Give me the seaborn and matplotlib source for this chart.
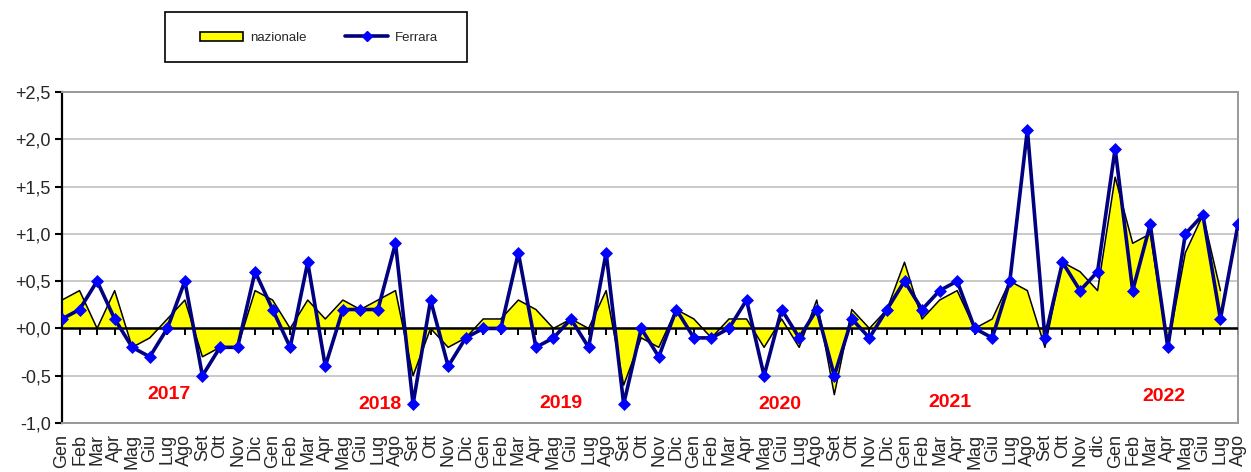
import numpy as np
import matplotlib
matplotlib.use('Agg')
import matplotlib.pyplot as plt
from matplotlib.patches import Rectangle
from matplotlib.lines import Line2D
from matplotlib.patches import Patch
import seaborn as sns

# monthly labels Gen 2017 -> Ago 2022
months = (['Gen', 'Feb', 'Mar', 'Apr', 'Mag', 'Giu', 'Lug', 'Ago', 'Set', 'Ott', 'Nov', 'Dic'] * 4
          + ['Gen', 'Feb', 'Mar', 'Apr', 'Mag', 'Giu', 'Lug', 'Ago', 'Set', 'Ott', 'Nov', 'dic']
          + ['Gen', 'Feb', 'Mar', 'Apr', 'Mag', 'Giu', 'Lug', 'Ago'])

nazionale = [0.3, 0.4, 0.0, 0.4, -0.2, -0.1, 0.1, 0.3, -0.3, -0.2, -0.2, 0.4,
             0.3, 0.0, 0.3, 0.1, 0.3, 0.2, 0.3, 0.4, -0.5, 0.0, -0.2, -0.1,
             0.1, 0.1, 0.3, 0.2, 0.0, 0.1, 0.0, 0.4, -0.6, -0.1, -0.2, 0.2,
             0.1, -0.1, 0.1, 0.1, -0.2, 0.1, -0.2, 0.3, -0.7, 0.2, 0.0, 0.2,
             0.7, 0.1, 0.3, 0.4, 0.0, 0.1, 0.5, 0.4, -0.2, 0.7, 0.6, 0.4,
             1.6, 0.9, 1.0, -0.2, 0.8, 1.2, 0.4, np.nan]

ferrara = [0.1, 0.2, 0.5, 0.1, -0.2, -0.3, 0.0, 0.5, -0.5, -0.2, -0.2, 0.6,
           0.2, -0.2, 0.7, -0.4, 0.2, 0.2, 0.2, 0.9, -0.8, 0.3, -0.4, -0.1,
           0.0, 0.0, 0.8, -0.2, -0.1, 0.1, -0.2, 0.8, -0.8, 0.0, -0.3, 0.2,
           -0.1, -0.1, 0.0, 0.3, -0.5, 0.2, -0.1, 0.2, -0.5, 0.1, -0.1, 0.2,
           0.5, 0.2, 0.4, 0.5, 0.0, -0.1, 0.5, 2.1, -0.1, 0.7, 0.4, 0.6,
           1.9, 0.4, 1.1, -0.2, 1.0, 1.2, 0.1, 1.1]

years = ['2017', '2018', '2019', '2020', '2021', '2022']
year_x = [6.1, 18.1, 28.4, 40.9, 50.6, 62.8]
year_y = [-0.70, -0.80, -0.79, -0.80, -0.78, -0.72]

yticks = [-1.0, -0.5, 0.0, 0.5, 1.0, 1.5, 2.0, 2.5]
ytick_labels = ['-1,0', '-0,5', '+0,0', '+0,5', '+1,0', '+1,5', '+2,0', '+2,5']

sns.set_style('white')
plt.rcParams['font.family'] = ['Liberation Sans', 'DejaVu Sans']

x = np.arange(len(months))
naz = np.array(nazionale, dtype=float)

fig = plt.figure(figsize=(12.51, 4.72), dpi=100)
ax = fig.add_axes([62 / 1251, 1 - 423 / 472, (1238 - 62) / 1251, (423 - 92) / 472])

# nazionale as filled area
ax.fill_between(x, 0, naz, color='#FFFF00', linewidth=0, zorder=2)
sns.lineplot(x=x, y=naz, ax=ax, color='black', linewidth=1.1, zorder=3)
ax.axhline(0, color='black', linewidth=1.8, zorder=4)

# Ferrara line with diamonds
sns.lineplot(x=x, y=ferrara, ax=ax, color='#000080', linewidth=2.6,
             marker='D', markersize=6.3, markerfacecolor='#0000FF',
             markeredgecolor='#0000FF', markeredgewidth=0.5, zorder=5)

ax.set_xlim(0, len(months) - 1)
ax.set_ylim(-1.0, 2.5)
ax.set_yticks(yticks)
ax.set_yticklabels(ytick_labels, fontsize=13)
ax.set_xticks(x)
ax.set_xticklabels(months, rotation=90, fontsize=13)
ax.tick_params(axis='x', length=0, pad=8)
ax.tick_params(axis='y', length=5, width=1.5, color='black', direction='out', left=True, pad=3)
ax.grid(axis='y', color='#C0C0C0', linewidth=1.2)
ax.grid(axis='x', visible=False)
ax.set_axisbelow(True)

for side in ['top', 'right', 'bottom']:
    ax.spines[side].set_color('#999999')
    ax.spines[side].set_linewidth(1.4)
ax.spines['left'].set_color('black')
ax.spines['left'].set_linewidth(1.6)

# small ticks hanging from the zero line
zero_axis = ax.secondary_xaxis(1 / 3.5)
zero_axis.set_xticks(x)
zero_axis.set_xticklabels([])
zero_axis.tick_params(length=5, width=1.4, color='black', direction='out')
zero_axis.spines['bottom'].set_visible(False)

for lbl, xx, yy in zip(years, year_x, year_y):
    ax.text(xx, yy, lbl, color='#FF0000', fontsize=14, fontweight='bold',
            ha='center', va='center', zorder=6)

# legend box
fig.patches.append(Rectangle((165 / 1251, 1 - 62 / 472), 302 / 1251, 50 / 472,
                             transform=fig.transFigure, facecolor='white',
                             edgecolor='black', linewidth=1.2))
handles = [Patch(facecolor='#FFFF00', edgecolor='black', linewidth=1.2),
           Line2D([], [], color='#000080', linewidth=2.6, marker='D', markersize=5,
                  markerfacecolor='#0000FF', markeredgecolor='#0000FF')]
fig.legend(handles, ['nazionale', 'Ferrara'], ncol=2, frameon=False, fontsize=9.5,
           loc='center', bbox_to_anchor=(319 / 1251, 1 - 38 / 472),
           handlelength=3.3, handleheight=0.7, handletextpad=0.5, columnspacing=2.9)

fig.savefig('out.png', dpi=100)
